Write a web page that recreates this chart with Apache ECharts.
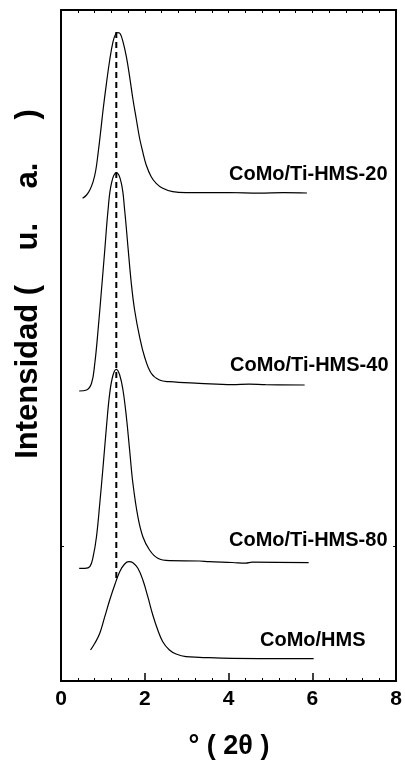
<!DOCTYPE html>
<html>
<head>
<meta charset="utf-8">
<script src="https://cdn.jsdelivr.net/npm/echarts@6/dist/echarts.min.js"></script>
<style>html,body{margin:0;padding:0;background:#fff}#c{width:405px;height:764px}</style>
</head>
<body>
<div id="c"></div>
<script>
// 2θ values (degrees) and intensity (arbitrary units, vertically offset) for each pattern
const ti20X = [0.515,0.610,0.688,0.767,0.831,0.885,0.942,1.004,1.085,1.163,1.242,1.306,1.360,1.417,1.479,1.560,1.638,1.716,1.797,1.875,1.954,2.034,2.153,2.272,2.429,2.666,2.984,3.300,4.012,4.724,5.318,5.871];
const ti20Y = [482.7,486,491,499.3,511,527.7,547.7,571,597.7,621,639.3,647,648.3,647,639.3,624.3,604.3,582,562,543,528.7,516,504.3,497.7,492.7,489.3,488.3,488.3,488.5,487.8,488.3,488];

const ti40X = [0.434,0.610,0.729,0.807,0.885,0.966,1.045,1.123,1.204,1.322,1.441,1.519,1.598,1.678,1.757,1.875,1.994,2.153,2.350,2.588,3.300,4.090,4.487,4.883,5.816];
const ti40Y = [290,291,297.7,317.7,351,391,431,471,497.7,508.3,497.7,471,434.3,397.7,371,344.3,324.3,307.7,301,299.3,297.7,296.3,296.8,296.3,296];

const ti80X = [0.434,0.570,0.688,0.767,0.847,0.926,1.004,1.085,1.163,1.242,1.322,1.401,1.479,1.560,1.638,1.716,1.835,1.954,2.113,2.310,2.588,3.300,3.537,4.090,4.408,4.565,5.911];
const ti80Y = [112.7,112.7,114.3,124.3,144.3,177.7,214.3,254.3,287.7,306,311.7,306,291,264.3,231,197.7,164.3,144.3,131,122.7,120.3,120,119.3,118.5,117.8,118.8,118.3];

const hmsX = [0.705,0.807,0.926,1.045,1.163,1.282,1.401,1.519,1.621,1.716,1.835,1.954,2.072,2.191,2.310,2.429,2.588,2.747,2.984,3.300,4.090,6.030];
const hmsY = [31,37.7,47.7,64.3,81,96,109.3,117,119.3,118.3,112.7,101,84.3,66,51,39.3,31,27,24.3,23.7,22.7,22.3];

const peakLineX = [1.32, 1.32];
const peakLineY = [649, 103];

const seriesNames = ['CoMo/Ti-HMS-20','CoMo/Ti-HMS-40','CoMo/Ti-HMS-80','CoMo/HMS'];
const xTicks = [0, 2, 4, 6, 8];
const yTickValues = [135];

const zip = (xs, ys) => xs.map((x, i) => [x, ys[i]]);

const chart = echarts.init(document.getElementById('c'), null, {renderer: 'canvas'});
const lineSeries = (name, xs, ys) => ({
  name, type: 'line', data: zip(xs, ys), showSymbol: false, smooth: 0.4,
  lineStyle: {color: '#000', width: 1.2}, silent: true, animation: false
});
const FF = 'Liberation Sans, Arial, sans-serif';
const labelFont = {fontFamily: FF, fontWeight: 'bold', fill: '#000'};
const yAxisBase = (pos) => ({
  type: 'value', position: pos, min: 0, max: 671,
  axisLine: {show: true, onZero: false, lineStyle: {color: '#000', width: 2}},
  axisTick: {show: true, inside: true, length: 3, customValues: yTickValues, lineStyle: {color: '#000', width: 1}},
  axisLabel: {show: false}, splitLine: {show: false}
});

chart.setOption({
  animation: false,
  grid: {left: 61, right: 7, top: 10, bottom: 83},
  xAxis: [
    {type: 'value', position: 'bottom', min: xTicks[0], max: xTicks[xTicks.length-1], interval: 2,
     axisLine: {onZero: false, lineStyle: {color: '#000', width: 2}},
     axisTick: {inside: true, length: 8, lineStyle: {color: '#000', width: 1.5}},
     minorTick: {show: true, splitNumber: 5, length: 3, lineStyle: {color: '#000', width: 1}},
     axisLabel: {color: '#000', fontSize: 21, fontWeight: 'bold', fontFamily: FF, margin: 8},
     splitLine: {show: false}},
    {type: 'value', position: 'top', min: 0, max: 8, interval: 2,
     axisLine: {onZero: false, lineStyle: {color: '#000', width: 2}},
     axisTick: {inside: true, length: 3, lineStyle: {color: '#000', width: 1}},
     minorTick: {show: true, splitNumber: 5, length: 3, lineStyle: {color: '#000', width: 1}},
     axisLabel: {show: false}, splitLine: {show: false}}
  ],
  yAxis: [yAxisBase('left'), yAxisBase('right')],
  series: [
    lineSeries(seriesNames[0], ti20X, ti20Y),
    lineSeries(seriesNames[1], ti40X, ti40Y),
    lineSeries(seriesNames[2], ti80X, ti80Y),
    lineSeries(seriesNames[3], hmsX, hmsY),
    {type: 'line', data: zip(peakLineX, peakLineY), showSymbol: false, silent: true,
     lineStyle: {color: '#000', width: 2, type: [6, 4]}},
    {type: 'line', xAxisIndex: 1, yAxisIndex: 1, data: [], silent: true}
  ],
  graphic: [
    {type: 'text', left: 229, top: 164, style: Object.assign({text: seriesNames[0], fontSize: 20}, labelFont)},
    {type: 'text', left: 230, top: 355, style: Object.assign({text: seriesNames[1], fontSize: 20}, labelFont)},
    {type: 'text', left: 229, top: 530, style: Object.assign({text: seriesNames[2], fontSize: 20}, labelFont)},
    {type: 'text', left: 260, top: 630, style: Object.assign({text: seriesNames[3], fontSize: 20}, labelFont)},
    {type: 'text', x: 229, y: 747, style: Object.assign({text: '° ( 2θ )', fontSize: 27, align: 'center', verticalAlign: 'middle'}, labelFont)},
    {type: 'text', x: 28, y: 284, rotation: Math.PI/2,
     style: Object.assign({text: 'Intensidad (    u.    a.     )', fontSize: 31, align: 'center', verticalAlign: 'middle'}, labelFont)}
  ]
});
</script>
</body>
</html>
